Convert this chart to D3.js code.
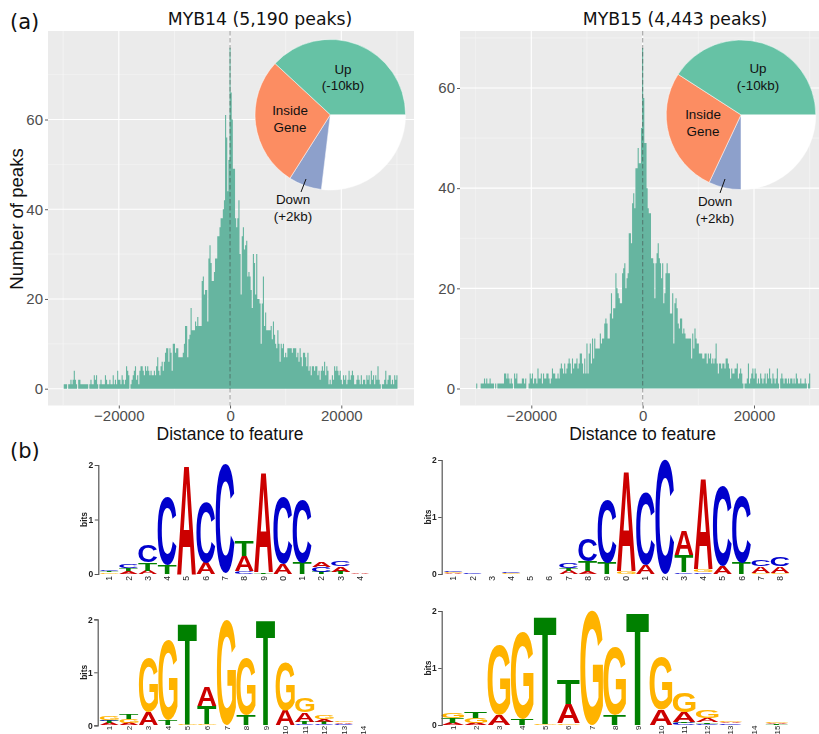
<!DOCTYPE html>
<html><head><meta charset="utf-8">
<script src="https://cdn.jsdelivr.net/npm/d3@7/dist/d3.min.js"></script>
<style>html,body{margin:0;padding:0;background:#fff}svg{display:block}</style>
</head><body><svg id="c" width="819" height="734"></svg>
<script>
const binStart = -29900, binWidth = 200;
const myb14Counts = [
1,1,1,0,1,1,2,1,2,4, 2,1,0,2,2,1,1,1,1,1, 1,1,0,1,2,1,1,3,2,3, 1,0,1,2,1,1,1,3,2,1, 1,2,1,1,3,1,2,1,4,2,
2,1,3,2,1,2,5,4,3,0, 1,2,3,4,5,2,3,1,4,5, 5,4,3,5,4,5,4,3,4,3, 3,4,3,5,7,4,3,5,6,4, 6,8,9,9,6,9,8,4,10,10,
8,9,9,7,7,7,7,8,10,14, 14,7,11,12,18,13,13,13,15,14, 16,14,14,14,24,25,21,22,22,15, 29,32,28,24,24,26,29,29,34,34, 36,38,38,40,42,61,56,44,51,76,
66,60,49,49,38,36,38,42,30,21, 34,36,31,32,33,25,26,25,22,18, 30,28,21,30,20,20,19,10,19,25, 14,17,13,13,13,13,14,11,15,12, 10,9,13,10,6,10,9,10,7,8,
7,9,9,9,9,8,9,9,9,7, 8,6,9,7,5,8,8,7,5,8, 4,5,3,5,5,4,5,5,3,4, 2,4,5,4,6,3,5,4,1,2, 1,3,2,5,4,5,4,3,4,2,
1,3,2,3,1,2,4,2,3,4, 3,1,1,2,3,2,1,3,1,2, 2,1,3,2,3,1,4,2,3,1, 3,2,5,2,1,0,1,1,2,4, 1,2,3,3,1,2,1,3,2,3];
const myb15Counts = [
1,0,0,0,1,1,1,2,1,2, 1,1,2,1,1,1,0,1,0,1, 1,1,1,1,1,3,3,2,3,2, 1,2,1,0,3,2,3,1,1,1, 1,2,2,1,2,0,0,1,3,2,
3,1,2,2,1,4,2,2,3,1, 3,2,2,3,3,2,1,2,4,3, 3,2,2,3,2,4,5,4,3,5, 3,4,5,6,5,3,6,4,5,5, 6,4,5,7,7,5,3,6,3,9,
3,7,9,5,10,6,10,8,8,8, 8,11,9,10,10,13,14,13,10,10, 15,19,14,16,16,23,20,19,18,17, 17,23,24,25,20,22,23,31,31,29, 37,39,36,44,44,48,45,45,52,68,
58,49,49,40,36,35,35,26,26,25, 18,25,27,29,26,25,22,25,17,19, 23,25,23,23,15,15,19,9,17,18, 16,13,12,14,14,11,12,11,10,10, 10,10,10,6,11,8,12,10,9,9,
7,7,7,6,6,7,7,5,7,6, 7,5,6,5,6,9,5,3,5,5, 4,5,5,4,6,6,5,4,2,4, 3,3,4,4,5,2,3,4,3,1, 0,1,1,2,5,1,2,3,4,2,
4,3,1,2,1,3,2,1,2,3, 1,3,2,4,2,1,3,2,1,2, 4,1,0,2,3,2,1,2,2,1, 2,1,2,2,1,2,1,3,2,1, 1,2,1,1,1,2,1,0,1,3];

const pieLabels = ["Other","Down","Inside","Up"];
const myb14Pie = [26.9,7.1,27.9,38.1];
const myb15Pie = [25.0,7.0,27.1,40.9];
const pieColors = ["#FFFFFF","#8DA0CB","#FC8D62","#66C2A5"];

const xTicks = [-20000,0,20000], xMinor = [-30000,-10000,10000,30000];
const yTicks = [0,20,40,60], yMinor = [10,30,50,70];

const logoA = [[["G",.03],["T",.03],["C",.03]],[["A",.05],["T",.05],["C",.07]],[["A",.06],["T",.15],["C",.32]],[["T",.17],["C",1.25]],[["A",2.0]],[["A",.2],["C",1.1]],[["C",2.0]],[["C",.05],["A",.28],["T",.28]],[["T",.03],["A",1.83]],[["A",.18],["C",1.23]],[["T",.2],["C",1.15]],[["T",.04],["C",.09],["A",.1]],[["T",.04],["A",.1],["C",.1]],[["A",.01]]];
const logoALabels = ["1","2","3","4","5","6","7","8","9","0","1","2","3","4"];
const logoB = [[["A",.015],["G",.015],["C",.02]],[["C",.03]],[],[["G",.02],["C",.03]],[],[],[["A",.06],["T",.05],["C",.08]],[["A",.05],["T",.17],["C",.38]],[["T",.2],["C",1.1]],[["G",.05],["A",1.76]],[["A",.15],["C",1.28]],[["C",2.0]],[["C",.03],["T",.3],["A",.42]],[["C",.03],["G",.05],["A",1.6]],[["A",.13],["C",1.42]],[["T",.2],["C",1.17]],[["G",.02],["A",.12],["C",.12]],[["G",.02],["A",.12],["C",.15]]];
const logoBLabels = ["1","2","3","4","5","6","7","8","9","0","1","2","3","4","5","6","7","8"];
const logoC = [[["A",.04],["T",.04],["C",.02],["G",.07]],[["A",.05],["G",.06],["T",.1]],[["A",.25],["G",1.02]],[["T",.1],["G",1.52]],[["G",.01],["T",1.9]],[["G",.03],["T",.33],["A",.36]],[["G",2.0]],[["T",.2],["G",1.06]],[["T",1.98]],[["A",.28],["G",.93]],[["C",.02],["T",.04],["A",.18],["G",.27]],[["C",.02],["T",.04],["A",.05],["G",.07]],[["C",.03],["A",.03],["G",.03]],[]];
const logoCLabels = ["1","2","3","4","5","6","7","8","9","10","11","12","13","14"];
const logoD = [[["A",.04],["T",.08],["G",.1]],[["A",.04],["G",.09],["T",.11]],[["A",.18],["G",1.22]],[["T",.1],["G",1.52]],[["G",.01],["T",1.9]],[["G",.03],["A",.34],["T",.42]],[["G",2.0]],[["T",.18],["G",1.21]],[["T",1.98]],[["A",.27],["G",.93]],[["C",.04],["T",.02],["A",.17],["G",.35]],[["C",.02],["T",.03],["A",.07],["G",.13]],[["C",.03],["A",.03],["G",.01]],[],[["T",.01],["A",.03],["G",.01]]];
const logoDLabels = ["1","2","3","4","5","6","7","8","9","10","11","12","13","14","15"];
const baseColors = {A:"#CC0000",C:"#0000CC",G:"#FFB300",T:"#008000"};

const svg = d3.select("#c");
const sans = "'Liberation Sans',Arial,sans-serif";
const defs = svg.append("defs");
defs.append("filter").attr("id","soft").attr("x","-5%").attr("y","-5%").attr("width","110%").attr("height","110%")
  .append("feGaussianBlur").attr("stdDeviation",0.4);

function histPanel(o){
  const g = svg.append("g");
  const x = d3.scaleLinear().domain([-20000,20000]).range(o.xr);
  const y = d3.scaleLinear().domain([0,60]).range(o.yr);
  g.append("rect").attr("x",o.px0).attr("y",o.py0).attr("width",o.px1-o.px0).attr("height",o.py1-o.py0).attr("fill","#EBEBEB");
  g.selectAll(".mx").data(xMinor).join("line").attr("x1",x).attr("x2",x).attr("y1",o.py0).attr("y2",o.py1).attr("stroke","#F6F6F6").attr("stroke-width",.6);
  g.selectAll(".my").data(yMinor).join("line").attr("y1",y).attr("y2",y).attr("x1",o.px0).attr("x2",o.px1).attr("stroke","#F6F6F6").attr("stroke-width",.6);
  g.selectAll(".Mx").data(xTicks).join("line").attr("x1",x).attr("x2",x).attr("y1",o.py0).attr("y2",o.py1).attr("stroke","#fff").attr("stroke-width",1.1);
  g.selectAll(".My").data(yTicks).join("line").attr("y1",y).attr("y2",y).attr("x1",o.px0).attr("x2",o.px1).attr("stroke","#fff").attr("stroke-width",1.1);
  const area = d3.area().curve(d3.curveStepAfter).x((d,i)=>x(binStart+i*binWidth)).y0(y(0)).y1(d=>y(d));
  g.append("path").attr("d",area([...o.counts,0])).attr("fill","#66B5A0");
  g.append("line").attr("x1",x(0)).attr("x2",x(0)).attr("y1",o.py0).attr("y2",o.py1)
    .attr("stroke","#3c3c3c").attr("stroke-opacity",.42).attr("stroke-width",1.2).attr("stroke-dasharray","4.5,2.5");
  const ax = d3.axisBottom(x).tickValues(xTicks).tickSize(3).tickPadding(2).tickFormat(d3.format("d"));
  const axg = g.append("g").attr("transform",`translate(0,${o.py1})`).call(ax);
  const ay = d3.axisLeft(y).tickValues(yTicks).tickSize(3).tickPadding(2);
  const ayg = g.append("g").attr("transform",`translate(${o.px0},0)`).call(ay);
  [axg,ayg].forEach(a=>{a.select(".domain").remove();a.selectAll("line").attr("stroke","#333").attr("stroke-width",.8);
    a.selectAll("text").attr("fill","#4D4D4D").attr("font-family",sans).attr("font-size",15);});
  g.append("text").attr("x",x(0)).attr("y",440).attr("text-anchor","middle").attr("font-family",sans).attr("font-size",17.5).attr("fill","#111").text("Distance to feature");
  g.append("text").attr("x",o.titleX).attr("y",25).attr("text-anchor","middle").attr("font-family","'DejaVu Sans'").attr("font-size",17.3).attr("fill","#111").text(o.title);

  const pg = g.append("g").attr("transform",`translate(${o.pc[0]},${o.pc[1]})`);
  const pie = d3.pie().sort(null).startAngle(Math.PI/2).endAngle(Math.PI*2.5);
  const arc = d3.arc().innerRadius(0).outerRadius(o.pr);
  pg.selectAll("path").data(pie(o.pie)).join("path").attr("d",arc)
    .attr("fill",(d,i)=>pieColors[i]).attr("stroke","#fff").attr("stroke-width",.5);
  const lab = (t,a,b)=>g.append("text").attr("x",a).attr("y",b).attr("text-anchor","middle").attr("font-family",sans).attr("font-size",13.4).attr("fill","#111").text(t);
  o.labels.forEach(l=>lab(l[0],l[1],l[2]));
  g.append("line").attr("x1",o.leader[0]).attr("y1",o.leader[1]).attr("x2",o.leader[2]).attr("y2",o.leader[3]).attr("stroke","#111").attr("stroke-width",1);
}

histPanel({counts:myb14Counts,pie:myb14Pie,title:"MYB14 (5,190 peaks)",titleX:260,
  xr:[118.8,341.3],yr:[388.7,119.5],px0:48,px1:414,py0:31,py1:405.5,pc:[330.3,114.7],pr:75.3,
  labels:[["Up",343,74],["(-10kb)",343,90],["Inside",290,115],["Gene",290,132],["Down",293,204],["(+2kb)",293,221]],leader:[306,179,301,192]});
histPanel({counts:myb15Counts,pie:myb15Pie,title:"MYB15 (4,443 peaks)",titleX:675,
  xr:[531.3,754],yr:[388.5,88],px0:460,px1:819,py0:31,py1:405.5,pc:[741,114.8],pr:74.8,
  labels:[["Up",758,73],["(-10kb)",758,90],["Inside",703,119],["Gene",703,136],["Down",715,206],["(+2kb)",715,223]],leader:[725,179,720,193]});

svg.append("text").attr("transform","translate(22.5,219) rotate(-90)").attr("text-anchor","middle").attr("font-family",sans).attr("font-size",18.6).attr("fill","#111").text("Number of peaks");
svg.append("text").attr("x",10).attr("y",29).attr("font-family","'DejaVu Sans'").attr("font-size",21).attr("fill","#111").text("(a)");
svg.append("text").attr("x",10).attr("y",458).attr("font-family","'DejaVu Sans'").attr("font-size",21).attr("fill","#111").text("(b)");

const cv = document.createElement("canvas").getContext("2d");
cv.font = "bold 100px 'Liberation Sans'";
const metrics = {};
["A","C","G","T"].forEach(c=>{const m=cv.measureText(c);metrics[c]={l:m.actualBoundingBoxLeft,r:m.actualBoundingBoxRight,a:m.actualBoundingBoxAscent,d:m.actualBoundingBoxDescent};});

function logo(o){
  const g = svg.append("g").attr("filter","url(#soft)");
  const x = d3.scaleLinear().domain([1,o.data.length]).range(o.xr);
  const y = d3.scaleLinear().domain([0,2]).range(o.yr);
  const sp = x(2)-x(1);
  const w = sp*o.wf;
  o.data.forEach((stack,i)=>{
    let acc=0;
    stack.forEach(([c,h])=>{
      const m=metrics[c], yb=y(acc), yt=y(acc+h), X=x(i+1)-w/2;
      const sx=w/(m.l+m.r), sy=(yb-yt)/(m.a+m.d);
      g.append("text").attr("transform",`translate(${X+m.l*sx},${yt+m.a*sy}) scale(${sx},${sy})`)
        .attr("font-family",sans).attr("font-weight","bold").attr("font-size",100).attr("fill",baseColors[c]).text(c);
      acc+=h;
    });
    g.append("text").attr("transform",`translate(${x(i+1)+3},${y(0)+o.labOff}) rotate(-90)`).attr("text-anchor","end")
      .attr("font-family",sans).attr("font-size",o.labSize).attr("fill","#222").text(o.labels[i]);
  });
  const ay=d3.axisLeft(y).tickValues([0,1,2]).tickSize(3.5).tickPadding(1.5).tickFormat(d3.format("d"));
  const a=g.append("g").attr("transform",`translate(${o.ax},0)`).call(ay);
  a.select(".domain").attr("stroke","#555").attr("stroke-width",1.2);
  a.selectAll("line").attr("stroke","#555").attr("stroke-width",1);
  a.selectAll("text").attr("font-family",sans).attr("font-weight","bold").attr("font-size",8.5).attr("fill","#222");
  g.append("text").attr("transform",`translate(${o.ax-11},${(y(0)+y(2))/2}) rotate(-90)`).attr("text-anchor","middle")
    .attr("font-family",sans).attr("font-weight","bold").attr("font-size",8.5).attr("fill","#222").text("bits");
}
logo({data:logoA,labels:logoALabels,xr:[109.3,360],yr:[574,465],ax:98.3,wf:.98,labOff:2,labSize:8.6});
logo({data:logoB,labels:logoBLabels,xr:[453.3,780],yr:[574,460],ax:441.7,wf:.98,labOff:2,labSize:8.6});
logo({data:logoC,labels:logoCLabels,xr:[109.3,363.3],yr:[725.3,619.3],ax:97.7,wf:.98,labOff:0.5,labSize:8});
logo({data:logoD,labels:logoDLabels,xr:[452.7,776.7],yr:[725,611],ax:441.7,wf:.98,labOff:0.5,labSize:8});
</script></body></html>
